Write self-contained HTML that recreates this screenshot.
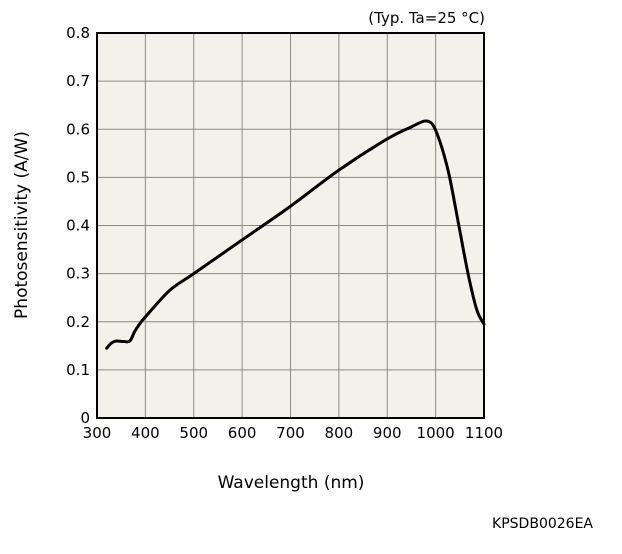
<!DOCTYPE html>
<html><head><meta charset="utf-8"><style>
body{margin:0;background:#fff;}
svg text{font-family:"DejaVu Sans","Liberation Sans",sans-serif;fill:#000;}
</style></head><body>
<svg width="622" height="549">
<rect x="97" y="33" width="387" height="385" fill="#f3f2ea"/>
<g id="grid"></g>
<rect x="97" y="33" width="387" height="385" fill="none" stroke="#000" stroke-width="2"/>
<g id="ticks"></g>
<path id="curve" fill="none" stroke="#000" stroke-width="3" stroke-linejoin="round" stroke-linecap="round"/>
<text x="485" y="23" font-size="15" text-anchor="end">(Typ. Ta=25 °C)</text>
<text x="291" y="488" font-size="17" text-anchor="middle">Wavelength (nm)</text>
<text transform="translate(27,225) rotate(-90)" font-size="17" text-anchor="middle">Photosensitivity (A/W)</text>
<text x="593" y="528" font-size="14" text-anchor="end">KPSDB0026EA</text>
</svg>
<script>
const xTicks=[300,400,500,600,700,800,900,1000,1100];
const yTicks=[0,0.1,0.2,0.3,0.4,0.5,0.6,0.7,0.8];
const yTickLabels=["0","0.1","0.2","0.3","0.4","0.5","0.6","0.7","0.8"];
const wavelengths=[320,330,340,355,368,378,390,400,450,500,600,700,800,900,950,977,992,1002,1015,1029,1048,1067,1085,1100];
const sensitivity=[0.145,0.156,0.16,0.159,0.16,0.18,0.198,0.21,0.265,0.30,0.37,0.44,0.515,0.58,0.605,0.617,0.612,0.593,0.555,0.5,0.4,0.3,0.225,0.195];
const X=v=>97+(v-300)*387/800;
const Y=v=>418-v*385/0.8;
const NS="http://www.w3.org/2000/svg";
const grid=document.getElementById('grid'),ticks=document.getElementById('ticks');
xTicks.forEach(t=>{
 const l=document.createElementNS(NS,'line');
 l.setAttribute('x1',X(t));l.setAttribute('x2',X(t));l.setAttribute('y1',33);l.setAttribute('y2',418);
 l.setAttribute('stroke','#8a8a82');l.setAttribute('stroke-width','1');
 
 
 grid.appendChild(l);
 const tx=document.createElementNS(NS,'text');
 tx.setAttribute('x',X(t));tx.setAttribute('y',438);tx.setAttribute('font-size','15');tx.setAttribute('text-anchor','middle');
 tx.textContent=t;
 
 
 ticks.appendChild(tx);
});
yTicks.forEach((t,i)=>{
 const l=document.createElementNS(NS,'line');
 l.setAttribute('x1',97);l.setAttribute('x2',484);l.setAttribute('y1',Y(t));l.setAttribute('y2',Y(t));
 l.setAttribute('stroke','#8a8a82');l.setAttribute('stroke-width','1');
 
 
 grid.appendChild(l);
 const tx=document.createElementNS(NS,'text');
 tx.setAttribute('x',90);tx.setAttribute('y',Y(t)+5);tx.setAttribute('font-size','15');tx.setAttribute('text-anchor','end');
 tx.textContent=yTickLabels[i];
 
 
 ticks.appendChild(tx);
});
const pts=wavelengths.map((w,i)=>[X(w),Y(sensitivity[i])]);
let d='M'+pts[0][0]+','+pts[0][1];
for(let i=0;i<pts.length-1;i++){
 const p0=pts[Math.max(0,i-1)],p1=pts[i],p2=pts[i+1],p3=pts[Math.min(pts.length-1,i+2)];
 const c1=[p1[0]+(p2[0]-p0[0])/6,p1[1]+(p2[1]-p0[1])/6];
 const c2=[p2[0]-(p3[0]-p1[0])/6,p2[1]-(p3[1]-p1[1])/6];
 d+=' C'+c1+' '+c2+' '+p2;
}
document.getElementById('curve').setAttribute('d',d);
</script>
</body></html>
